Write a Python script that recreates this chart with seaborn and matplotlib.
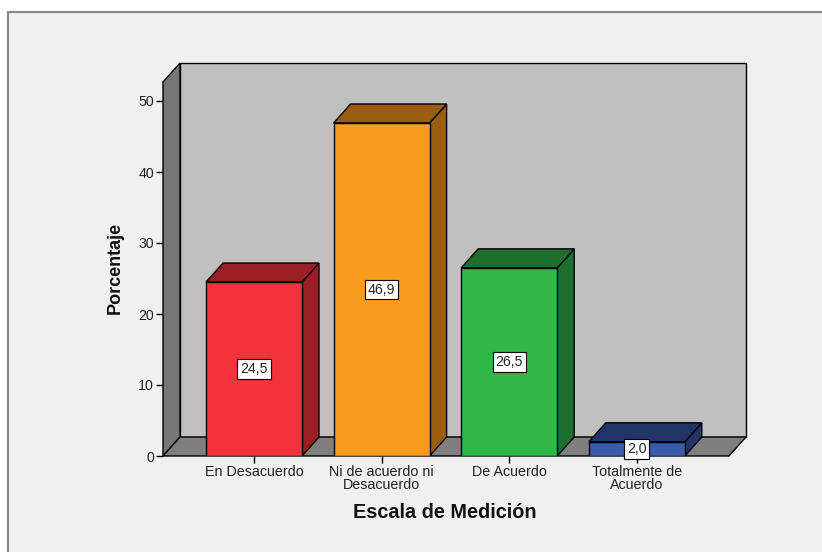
import matplotlib
matplotlib.use("Agg")
import matplotlib.pyplot as plt
from matplotlib.patches import Polygon, Rectangle
import seaborn as sns
import pandas as pd

categorias = ["En Desacuerdo", "Ni de acuerdo ni\nDesacuerdo", "De Acuerdo", "Totalmente de\nAcuerdo"]
porcentajes = [24.5, 46.9, 26.5, 2.0]
etiquetas = ["24,5", "46,9", "26,5", "2,0"]
colores_frente = ["#f2333c", "#f99b1f", "#2fb74a", "#3a5ba9"]
colores_lado = ["#991f24", "#9a5e12", "#1e6e2e", "#233469"]
y_ticks = [0, 10, 20, 30, 40, 50]

sns.set_theme(style="white")
plt.rcParams["font.family"] = ["Liberation Sans", "DejaVu Sans"]

W, H = 822, 552
fig = plt.figure(figsize=(W / 100, H / 100), dpi=100, facecolor="white")

# outer frame
fig.patches.append(Rectangle((8 / W, -0.1), 1.2, (H - 12) / H + 0.1,
                             transform=fig.transFigure, facecolor="#f0f0f0",
                             edgecolor="#8a8a8a", lw=1.6, zorder=-5))

# axes geometry (pixels)
ax_left, ax_right, ax_bottom, ax_top = 163, 746, 456, 63
ax = fig.add_axes([ax_left / W, (H - ax_bottom) / H, (ax_right - ax_left) / W,
                   (ax_bottom - ax_top) / H])
ax.set_zorder(2)
ax.set_facecolor("none")
ax.patch.set_alpha(0)

px_per_cat = 127.6
px_per_unit = 7.1
xl = (163 - 254) / px_per_cat
xr = (729 - 254) / px_per_cat
dx = 17 / px_per_cat
dy = 19 / px_per_unit
ytop = (456 - 63) / px_per_unit

wall_kw = dict(edgecolor="black", lw=1.0, zorder=1, clip_on=False)
# back wall
ax.add_patch(Polygon([(xl + dx, dy), (xr + dx, dy), (xr + dx, ytop), (xl + dx, ytop)],
                     facecolor="#c0c0c0", **wall_kw))
# left wall
ax.add_patch(Polygon([(xl, 0), (xl, ytop - dy), (xl + dx, ytop), (xl + dx, dy)],
                     facecolor="#777777", **wall_kw))
# floor
ax.add_patch(Polygon([(xl, 0), (xr, 0), (xr + dx, dy), (xl + dx, dy)],
                     facecolor="#7f7f7f", **wall_kw))

df = pd.DataFrame({"cat": categorias, "val": porcentajes})
bw = 96 / px_per_cat
sns.barplot(data=df, x="cat", y="val", hue="cat", palette=colores_frente, legend=False,
            width=bw, edgecolor="black", linewidth=1.0, saturation=1, ax=ax, zorder=3)

for i, (v, cs) in enumerate(zip(porcentajes, colores_lado)):
    x0, x1 = i - bw / 2, i + bw / 2
    ax.add_patch(Polygon([(x1, 0), (x1 + dx, dy), (x1 + dx, v + dy), (x1, v)],
                         facecolor=cs, edgecolor="black", lw=1.0, zorder=2.5))
    ax.add_patch(Polygon([(x0, v), (x1, v), (x1 + dx, v + dy), (x0 + dx, v + dy)],
                         facecolor=cs, edgecolor="black", lw=1.0, zorder=2.5))
    ax.text(i, v / 2, etiquetas[i], ha="center", va="center", fontsize=10.2, zorder=5,
            bbox=dict(boxstyle="square,pad=0.2", facecolor="white", edgecolor="black", lw=0.8))

ax.set_xlim(xl, xr + dx)
ax.set_ylim(0, ytop)

for s in ax.spines.values():
    s.set_visible(False)

ax.set_yticks(y_ticks)
ax.set_yticklabels([str(t) for t in y_ticks], fontsize=10.2, color="#222222")
ax.set_xticks(range(len(categorias)))
ax.set_xticklabels(categorias, fontsize=10.3, color="#222222", linespacing=0.88)
ax.tick_params(axis="both", which="major", length=5, width=1, color="black",
               left=True, bottom=True, pad=1.5)
ax.set_xlabel("")
ax.set_ylabel("")

fig.text(115 / W, (H - 268) / H, "Porcentaje", rotation=90, ha="center", va="center",
         fontsize=13, fontweight="bold", color="#111111")
fig.text(445 / W, (H - 513) / H, "Escala de Medición", ha="center", va="center",
         fontsize=14.3, fontweight="bold", color="#111111")

fig.savefig("out.png", dpi=100, facecolor="white")
